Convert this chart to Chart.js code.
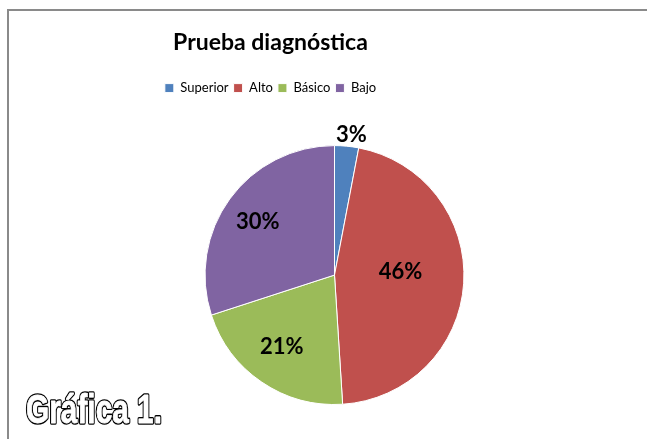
<!DOCTYPE html>
<html><head><meta charset="utf-8">
<script src="https://cdn.jsdelivr.net/npm/chart.js@4.4.1/dist/chart.umd.min.js"></script>
<style>
html,body{margin:0;padding:0;background:#fff;overflow:hidden;width:647px;height:439px;}
#frame{position:absolute;left:7px;top:9px;width:700px;height:500px;border-top:2px solid #8a8a8a;border-left:2px solid #8a8a8a;}
#c{position:absolute;left:0;top:0;}
</style></head><body>
<div id="frame"></div>
<canvas id="c" width="647" height="439"></canvas>
<script>
const categories = ['Superior', 'Alto', 'Básico', 'Bajo'];
const values = [3, 46, 21, 30];
const chartTitle = 'Prueba diagnóstica';
const caption = 'Gráfica 1.';
const colors = ['#4F81BD', '#C0504D', '#9BBB59', '#8064A2'];

const layoutSpacers = {
  id: 'layoutSpacers',
  beforeInit(chart, args, opts) {
    const mk = (position, size) => ({
      position, weight: -10, fullSize: false, options: {},
      left: 0, top: 0, right: 0, bottom: 0, width: 0, height: 0,
      isHorizontal() { return position === 'top' || position === 'bottom'; },
      update(maxWidth, maxHeight) {
        if (this.isHorizontal()) { this.width = maxWidth; this.height = size; }
        else { this.width = size; this.height = maxHeight; }
      },
      draw() {}
    });
    Chart.layouts.addBox(chart, mk('top', opts.top));
    Chart.layouts.addBox(chart, mk('left', opts.left));
  }
};

const sliceLabels = {
  id: 'sliceLabels',
  afterDatasetsDraw(chart, args, opts) {
    const ctx = chart.ctx;
    const meta = chart.getDatasetMeta(0);
    const vals = chart.data.datasets[0].data;
    ctx.save();
    ctx.font = opts.font;
    ctx.fillStyle = opts.color;
    ctx.textAlign = 'center';
    ctx.textBaseline = 'middle';
    meta.data.forEach((arc, i) => {
      const p = arc.getProps(['x', 'y', 'startAngle', 'endAngle', 'outerRadius'], true);
      const mid = (p.startAngle + p.endAngle) / 2 + (opts.angleShift[i] || 0) * Math.PI / 180;
      const r = p.outerRadius * opts.radius[i];
      ctx.fillText(vals[i] + '%', p.x + Math.cos(mid) * r, p.y + Math.sin(mid) * r);
    });
    ctx.restore();
  }
};

const captionPlugin = {
  id: 'captionText',
  afterDraw(chart, args, opts) {
    const ctx = chart.ctx;
    ctx.save();
    ctx.font = opts.font;
    const w = ctx.measureText(opts.text).width;
    const sx = opts.width / w;
    ctx.translate(opts.x, opts.y);
    ctx.scale(sx, 1);
    ctx.textBaseline = 'alphabetic';
    ctx.lineJoin = 'round';
    ctx.strokeStyle = '#000';
    ctx.lineWidth = 3.6;
    ctx.strokeText(opts.text, 0, 0);
    ctx.strokeStyle = '#fff';
    ctx.lineWidth = 0.8;
    ctx.strokeText(opts.text, 0, 0);
    ctx.fillStyle = '#fff';
    ctx.fillText(opts.text, 0, 0);
    ctx.restore();
  }
};

new Chart(document.getElementById('c'), {
  type: 'pie',
  data: {
    labels: categories,
    datasets: [{
      data: values,
      backgroundColor: colors,
      borderColor: '#ffffff',
      borderWidth: 1,
      hoverOffset: 0
    }]
  },
  options: {
    responsive: false,
    devicePixelRatio: 1,
    animation: false,
    layout: { padding: { top: 0, left: 0, right: 106, bottom: 34 } },
    plugins: {
      tooltip: { enabled: false },
      title: {
        display: true,
        text: chartTitle,
        color: '#000',
        font: { family: 'Lato', size: 23, weight: 'bold' },
        padding: { top: 29, bottom: 20 }
      },
      legend: {
        position: 'top',
        labels: {
          color: '#000',
          font: { family: 'Lato', size: 13 },
          boxWidth: 9, boxHeight: 9, padding: 5
        }
      },
      layoutSpacers: { top: 40.5, left: 128 },
      sliceLabels: {
        font: 'bold 22px Lato',
        color: '#000',
        radius: [1.09, 0.51, 0.69, 0.72],
        angleShift: [1.5, -6, 2, -1.5]
      },
      captionText: {
        text: caption,
        font: 'bold 41px "Liberation Sans"',
        x: 26, y: 423, width: 136
      }
    }
  },
  plugins: [layoutSpacers, sliceLabels, captionPlugin]
});
</script>
</body></html>
